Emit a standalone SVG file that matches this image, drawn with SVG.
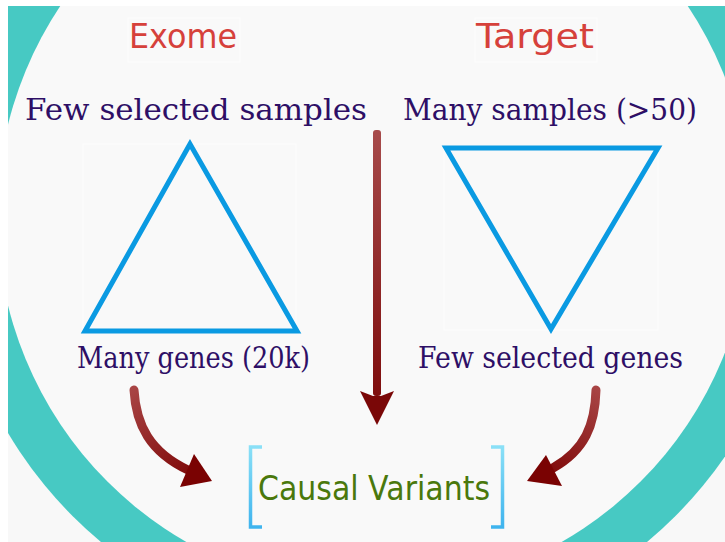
<svg xmlns="http://www.w3.org/2000/svg" width="725" height="542" viewBox="0 0 725 542">
  <defs>
    <style>
      .title { font-family: "DejaVu Sans", "Liberation Sans", sans-serif; fill: #d6413b; font-size: 33px; text-anchor: middle; }
      .label { font-family: "DejaVu Serif", "Liberation Serif", serif; fill: #2e0f66; font-size: 30px; }
      .result { font-family: "DejaVu Sans", "Liberation Sans", sans-serif; fill: #4a780c; font-size: 34px; text-anchor: middle; }
      .tri { fill: none; stroke: #0a9ae2; stroke-width: 5; stroke-linejoin: miter; }
      .faint { fill: none; stroke: #ffffff; stroke-width: 1; opacity: 0.7; }
      .bracket { fill: none; stroke: url(#gBracket); stroke-width: 3.5; }
    </style>
    <clipPath id="panel"><rect x="8" y="6" width="717" height="536"/></clipPath>
    <linearGradient id="gShaft" x1="0" y1="130" x2="0" y2="425" gradientUnits="userSpaceOnUse">
      <stop offset="0" stop-color="#a74b4b"/>
      <stop offset="1" stop-color="#7a0707"/>
    </linearGradient>
    <linearGradient id="gLeft" x1="134" y1="389" x2="205" y2="480" gradientUnits="userSpaceOnUse">
      <stop offset="0" stop-color="#a84444"/>
      <stop offset="1" stop-color="#7a0202"/>
    </linearGradient>
    <linearGradient id="gRight" x1="596" y1="389" x2="535" y2="480" gradientUnits="userSpaceOnUse">
      <stop offset="0" stop-color="#a84444"/>
      <stop offset="1" stop-color="#7a0202"/>
    </linearGradient>
    <linearGradient id="gBracket" x1="0" y1="447" x2="0" y2="527" gradientUnits="userSpaceOnUse">
      <stop offset="0" stop-color="#8ae0f7"/>
      <stop offset="1" stop-color="#3fb4ee"/>
    </linearGradient>
  </defs>

  <!-- background -->
  <rect x="0" y="0" width="725" height="542" fill="#ffffff"/>
  <g id="background" clip-path="url(#panel)">
    <rect x="8" y="6" width="717" height="536" fill="#f8f8f8"/>
    <circle cx="374" cy="215" r="426" fill="#47c9c3"/>
    <circle cx="374" cy="215" r="377" fill="#f9f9f9"/>
    <rect x="128" y="18" width="112" height="44" class="faint"/>
    <rect x="475" y="18" width="122" height="44" class="faint"/>
    <rect x="83" y="144" width="213" height="188" class="faint"/>
    <rect x="444" y="147" width="214" height="183" class="faint"/>
  </g>

  <!-- titles -->
  <g id="exome"><text class="title" x="183" y="48" textLength="108" lengthAdjust="spacingAndGlyphs">Exome</text></g>
  <g id="target"><text class="title" x="535" y="48" textLength="118" lengthAdjust="spacingAndGlyphs">Target</text></g>

  <!-- labels -->
  <g id="few-samples"><text class="label" x="25" y="120" textLength="342" lengthAdjust="spacingAndGlyphs">Few selected samples</text></g>
  <g id="many-samples"><text class="label" x="403" y="120" textLength="294" lengthAdjust="spacingAndGlyphs">Many samples (&gt;50)</text></g>

  <!-- triangles -->
  <g id="exome-triangle"><polygon class="tri" points="190,144 85,331 297,331"/></g>
  <g id="target-triangle"><polygon class="tri" points="446,148 658,148 551,329"/></g>

  <g id="many-genes"><text class="label" x="77" y="368" textLength="233" lengthAdjust="spacingAndGlyphs">Many genes (20k)</text></g>
  <g id="few-genes"><text class="label" x="418" y="368" textLength="265" lengthAdjust="spacingAndGlyphs">Few selected genes</text></g>

  <!-- result -->
  <g id="causal-variants">
    <path class="bracket" d="M262,447 H250.5 V527 H262"/>
    <path class="bracket" d="M491,447 H502.5 V527 H491"/>
    <text class="result" x="374" y="500" textLength="232" lengthAdjust="spacingAndGlyphs">Causal Variants</text>
  </g>

  <!-- connectors -->
  <g id="connectors">
    <rect x="373" y="130" width="8" height="266" rx="3" fill="url(#gShaft)"/>
    <polygon points="360,391 373,396 381,396 394,391 377,425" fill="#7a0707"/>
    <path d="M134,390 C136,425 150,452 188,470" fill="none" stroke="url(#gLeft)" stroke-width="9" stroke-linecap="round"/>
    <polygon points="194,454 212,481 180,487" fill="#7a0202"/>
    <path d="M596,390 C595,425 585,450 553,468" fill="none" stroke="url(#gRight)" stroke-width="9" stroke-linecap="round"/>
    <polygon points="546,455 562,486 527,481" fill="#7a0202"/>
  </g>
</svg>
